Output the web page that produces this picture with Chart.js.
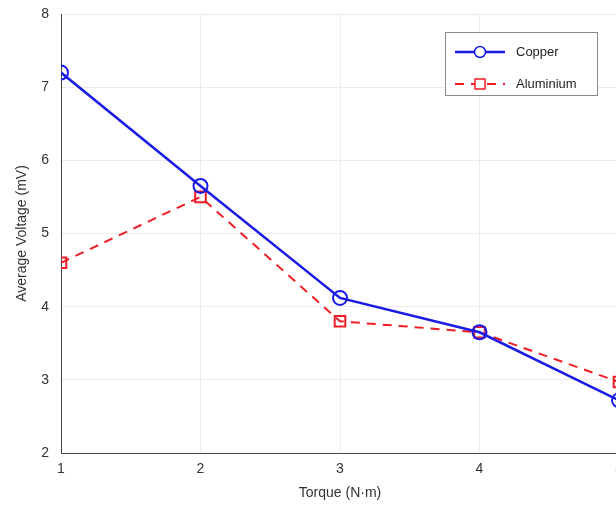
<!DOCTYPE html>
<html>
<head>
<meta charset="utf-8">
<script src="https://cdn.jsdelivr.net/npm/chart.js@4/dist/chart.umd.min.js"></script>
<style>
  html, body { margin: 0; padding: 0; background: #fff; overflow: hidden; }
  #wrap { width: 640px; height: 508px; position: relative; }
</style>
</head>
<body>
<div id="wrap"><canvas id="plot"></canvas></div>
<script>
"use strict";

// data
var torque = [1, 2, 3, 4, 5];
var copper = [7.2, 5.65, 4.12, 3.65, 2.72];
var aluminium = [4.6, 5.5, 3.8, 3.65, 2.97];
var yTicks = [2, 3, 4, 5, 6, 7, 8];

var FONT = "'Liberation Sans', Arial, sans-serif";

function pts(ys)
{
  return torque.map(function (x, i) { return { x: x, y: ys[i] }; });
}

// legend drawn inside the plot, like the matlab box
var boxLegend = {
  id: "boxLegend",
  afterDraw: function (chart) {
    var c = chart.ctx;
    var x0 = 445, y0 = 32, w = 152, h = 63;
    c.save();
    c.fillStyle = "#fff";
    c.fillRect(x0, y0, w, h);
    c.strokeStyle = "#8a8a8a";
    c.lineWidth = 1;
    c.strokeRect(x0 + 0.5, y0 + 0.5, w, h);
    chart.data.datasets.forEach(function (ds, i) {
      var ly = y0 + 20 + i * 32;
      c.strokeStyle = ds.borderColor;
      c.lineWidth = ds.borderWidth;
      c.setLineDash(ds.borderDash || []);
      c.beginPath();
      c.moveTo(x0 + 10, ly);
      c.lineTo(x0 + 60, ly);
      c.stroke();
      c.setLineDash([]);
      c.lineWidth = 1.5;
      c.beginPath();
      if (ds.pointStyle === "rect") {
        c.rect(x0 + 30, ly - 5, 10, 10);
      } else {
        c.arc(x0 + 35, ly, 5.5, 0, Math.PI * 2);
      }
      c.fillStyle = "#fff";
      c.fill();
      c.strokeStyle = ds.pointBorderColor;
      c.stroke();
      c.fillStyle = "#222";
      c.font = "13px " + FONT;
      c.textBaseline = "middle";
      c.fillText(ds.label, x0 + 71, ly);
    });
    c.restore();
  }
};

// matlab style frame: left and bottom axis lines
var frame = {
  id: "frame",
  beforeDatasetsDraw: function (chart) {
    var a = chart.chartArea, c = chart.ctx;
    c.save();
    c.strokeStyle = "#444";
    c.lineWidth = 1;
    c.beginPath();
    c.moveTo(a.left + 0.5, a.top);
    c.lineTo(a.left + 0.5, a.bottom + 0.5);
    c.lineTo(a.right, a.bottom + 0.5);
    c.stroke();
    c.restore();
  }
};

var ctx = document.getElementById("plot").getContext("2d");
new Chart(ctx, {
  type: "line",
  data: {
    datasets: [{
      label: "Copper",
      data: pts(copper),
      borderColor: "#1a1ae6",
      borderWidth: 2.5,
      pointStyle: "circle",
      pointRadius: 7,
      pointBorderWidth: 2,
      pointBorderColor: "#1a1ae6",
      pointBackgroundColor: "rgba(255,255,255,0)",
      tension: 0
    }, {
      label: "Aluminium",
      data: pts(aluminium),
      borderColor: "#ee1c24",
      borderWidth: 2,
      borderDash: [9, 7],
      pointStyle: "rect",
      pointRadius: 7.5,
      pointBorderWidth: 2,
      pointBorderColor: "#ee1c24",
      pointBackgroundColor: "rgba(255,255,255,0)",
      tension: 0
    }]
  },
  options: {
    responsive: true,
    maintainAspectRatio: false,
    animation: false,
    layout: { padding: { left: 0, top: 14, right: 21, bottom: 0 } },
    plugins: { legend: { display: false }, tooltip: { enabled: false } },
    scales: {
      x: {
        type: "linear",
        min: 1,
        max: 5,
        afterFit: function (s) { s.height = 55; s.paddingLeft = 0; s.paddingRight = 0; },
        afterBuildTicks: function (s) { s.ticks = torque.map(function (v) { return { value: v }; }); },
        grid: { color: "#ebebeb", drawTicks: false },
        border: { display: false },
        ticks: { color: "#333", padding: 8, font: { family: FONT, size: 14 } },
        title: { display: true, text: "Torque (N\u00b7m)", color: "#333", padding: { top: 0, bottom: 6 }, font: { family: FONT, size: 14 } }
      },
      y: {
        min: 2,
        max: 8,
        afterFit: function (s) { s.width = 61; s.paddingTop = 0; s.paddingBottom = 0; },
        afterBuildTicks: function (s) { s.ticks = yTicks.map(function (v) { return { value: v }; }); },
        grid: { color: "#ebebeb", drawTicks: false },
        border: { display: false },
        ticks: { color: "#333", padding: 12, font: { family: FONT, size: 14 } },
        title: { display: true, text: "Average Voltage (mV)", color: "#333", padding: { top: 14, bottom: 0 }, font: { family: FONT, size: 14 } }
      }
    }
  },
  plugins: [frame, boxLegend]
});
</script>
</body>
</html>
